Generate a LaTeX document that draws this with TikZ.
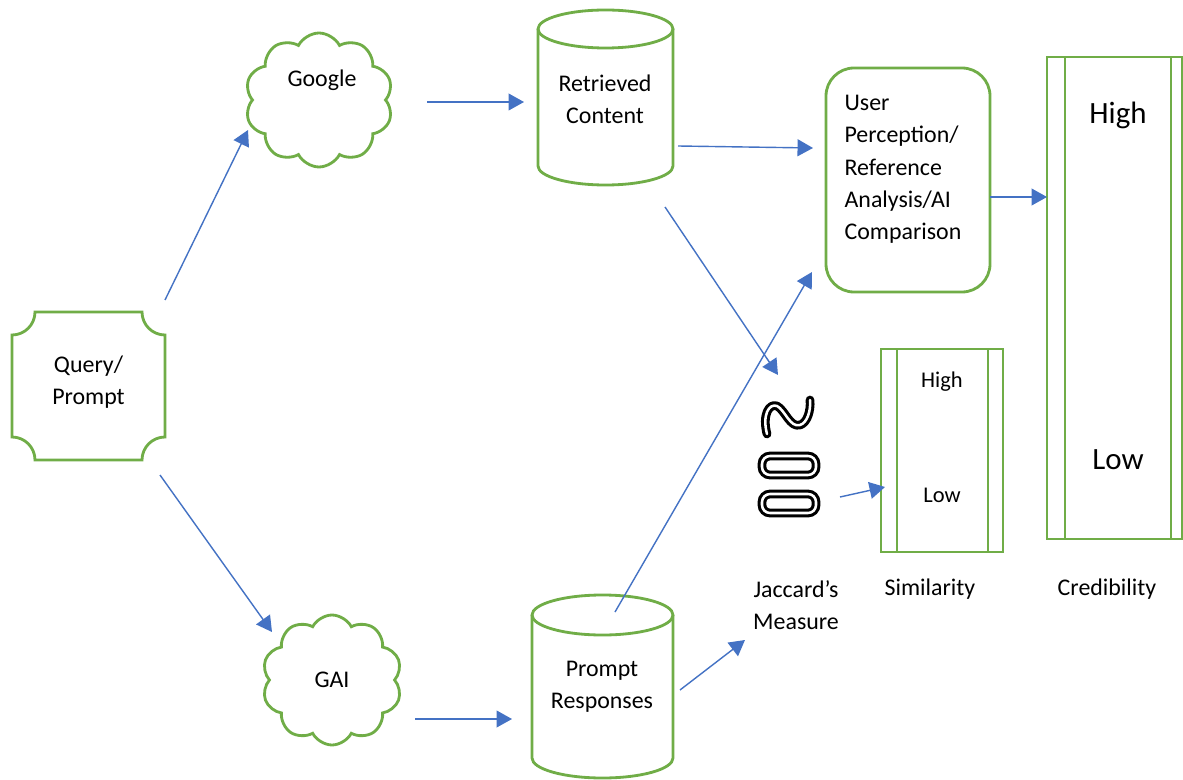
\documentclass[tikz,border=0pt]{standalone}
\usepackage{fontspec}
\setmainfont{Carlito}
\usetikzlibrary{shapes.symbols,arrows.meta,calc}
\definecolor{gGreen}{HTML}{70AD47}
\definecolor{aBlue}{HTML}{4472C4}
\newcommand{\PX}{0.025cm}
\begin{document}
\begin{tikzpicture}[x=0.025cm,y=0.025cm,
  gline/.style={draw=gGreen,line width=2pt},
  arr/.style={draw=aBlue,line width=1pt,-{Triangle[length=11pt,width=12pt]}},
  txt/.style={font=\fontsize{17}{23}\selectfont,align=center,inner sep=0pt},
  bigtxt/.style={font=\fontsize{22}{26}\selectfont,inner sep=0pt},
  midtxt/.style={font=\fontsize{16}{20}\selectfont,inner sep=0pt},
  cloudbox/.style={cloud,cloud puffs=10,cloud puff arc=125,draw=gGreen,line width=2pt,
    cloud ignores aspect,inner sep=0pt,outer sep=0pt},
  holder/.style={inner sep=0pt,outer sep=0pt},
  jstroke/.style={draw=black,line width=2.2pt,double=white,double distance=1.8pt},
]
\path[use as bounding box,fill=white] (0,0) rectangle (1183,779);

% Query / Prompt (concave corners)
\draw[gline] (35,467) -- (142,467) arc[start angle=180,end angle=270,radius=23*\PX]
  -- (165,342) arc[start angle=90,end angle=180,radius=23*\PX]
  -- (35,319) arc[start angle=0,end angle=90,radius=23*\PX]
  -- (12,444) arc[start angle=270,end angle=360,radius=23*\PX] -- cycle;
\node[txt] (qp) at (88.5,397) {Query/\\Prompt};

% Clouds
\node[cloudbox,minimum width=148*\PX,minimum height=134*\PX] (google) at (319,679) {};
\node[txt] (googletext) at (322,699) {Google};
\node[cloudbox,minimum width=140*\PX,minimum height=130*\PX,font=\fontsize{17}{23}\selectfont] (gai) at (332,99) {GAI};

% Cylinder: Retrieved Content
\draw[gline] (538,750) -- (538,613) arc[start angle=180,end angle=360,x radius=67.5*\PX,y radius=19*\PX] -- (673,750);
\draw[gline] (605.5,750) ellipse[x radius=67.5*\PX,y radius=19*\PX];
\node[txt] (rc) at (605,680) {Retrieved\\Content};

% Cylinder: Prompt Responses
\draw[gline] (532,164) -- (532,21) arc[start angle=180,end angle=360,x radius=70.5*\PX,y radius=20*\PX] -- (673,164);
\draw[gline] (602.5,164) ellipse[x radius=70.5*\PX,y radius=20*\PX];
\node[txt] (pr) at (602,92) {Prompt\\Responses};

% User perception box
\node[gline,rounded corners=28*\PX,minimum width=164*\PX,minimum height=224*\PX] (ubox) at (908,599) {};
\node[txt,align=left] (utext) at (903,609.5) {User\\Perception/\\Reference\\Analysis/AI\\Comparison};

% Credibility bar
\node[gline,minimum width=135*\PX,minimum height=482*\PX] (cred) at (1114.5,481) {};
\draw[gline] (1065,240) -- (1065,722);
\draw[gline] (1171,240) -- (1171,722);
\node[bigtxt] (credhigh) at (1118,664) {High};
\node[bigtxt] (credlow) at (1118,319) {Low};

% Similarity bar
\node[gline,minimum width=122*\PX,minimum height=203*\PX] (sim) at (942,328.5) {};
\draw[gline] (897,227) -- (897,430);
\draw[gline] (988,227) -- (988,430);
\node[midtxt] (simhigh) at (942,397) {High};
\node[midtxt] (simlow) at (942,284) {Low};

% Jaccard symbol
\node[holder,minimum width=97*\PX,minimum height=162*\PX] (jac) at (788,319) {};
\draw[jstroke,line cap=round,line join=round] (767,345) .. controls (762,364) and (769,376) .. (777,373)
  .. controls (785,369) and (790,351) .. (800,354) .. controls (807,356) and (811,368) .. (810,379);
\draw[jstroke,rounded corners=8*\PX] (762,304) rectangle (816,323);
\draw[jstroke,rounded corners=8*\PX] (762,266) rectangle (816,285);

% Labels
\node[txt] (jaclabel) at (796,174) {Jaccard's\\Measure};
\node[txt] (simlabel) at (930,190) {Similarity};
\node[txt] (credlabel) at (1107,190) {Credibility};

% Connectors
\draw[arr] ($(qp)+(76.5,82)$) -- ($(google)+(-71,-30)$);
\draw[arr] ($(qp)+(71.5,-93)$) -- ($(gai)+(-60,48)$);
\draw[arr] ($(google)+(108,-2)$) -- ($(rc)+(-81,-3)$);
\draw[arr] ($(gai)+(83,-39)$) -- ($(pr)+(-90,-32)$);
\draw[arr] ($(rc)+(73,-47)$) -- ($(ubox)+(-95,32)$);
\draw[arr] ($(rc)+(60,-108)$) -- ($(jac)+(-10,85)$);
\draw[arr] ($(pr)+(13,75)$) -- ($(ubox)+(-96,-92)$);
\draw[arr] ($(pr)+(78,-3)$) -- ($(jac)+(-43,-180)$);
\draw[arr] ($(jac)+(52,-37)$) -- ($(sim)+(-57,-36.5)$);
\draw[arr] ($(ubox)+(82,-17)$) -- ($(cred)+(-67.5,101)$);
\end{tikzpicture}
\end{document}
